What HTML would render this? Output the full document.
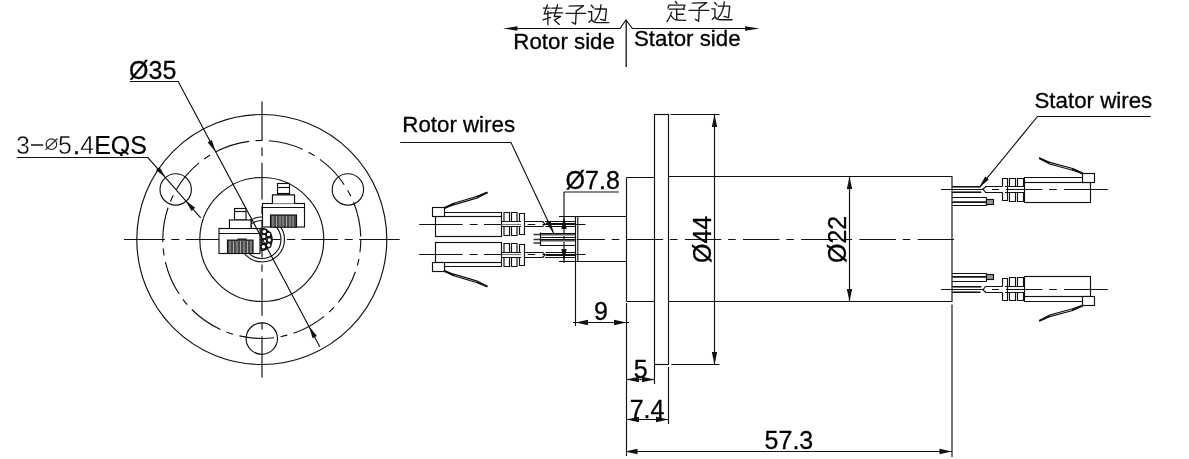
<!DOCTYPE html>
<html><head><meta charset="utf-8">
<style>
html,body{margin:0;padding:0;background:#fff;}
svg{display:block;will-change:transform;}
text{font-family:"Liberation Sans",sans-serif;fill:#000;stroke:#000;stroke-width:0.3px;}
text.thin{stroke:#fff;stroke-width:0.4px;}
</style></head>
<body>
<svg width="1189" height="459" viewBox="0 0 1189 459">
<defs>
  <g id="zi" fill="none" stroke="#1a1a1a" stroke-width="1.35" stroke-linecap="round" stroke-linejoin="round">
    <path d="M3.1 3.1 L17.6 2.7 L10.3 7.9"/>
    <path d="M10.3 7.9 L9.5 21.2 L6.2 19.4"/>
    <path d="M0 10.3 L19.7 10.3"/>
  </g>
  <g id="bian" fill="none" stroke="#1a1a1a" stroke-width="1.35" stroke-linecap="round" stroke-linejoin="round">
    <path d="M6.4 6.1 L17.9 6.1 L16.7 17.6 L12.2 16.4"/>
    <path d="M12.5 1.8 Q11.8 12 6.4 17.6"/>
    <path d="M2.8 2.4 L4.9 4.8"/>
    <path d="M0 8.8 L3.1 8.8 L3.1 17 L0.4 19.4"/>
    <path d="M3.1 17 Q5 19.7 8.5 19.7 L20.3 19.7"/>
  </g>
</defs>

<!-- ============ TOP: rotor/stator side ============ -->
<g stroke="#111" stroke-width="1.15" fill="none">
  <path d="M517 28.5 L620 28.5 L626 20 L632.4 28.5 L746 28.5"/>
  <line x1="626.2" y1="20" x2="626.2" y2="67" stroke-width="1.3"/>
</g>
<path d="M503 28.5 L517.5 26.3 L517.5 30.7 Z" fill="#111"/>
<path d="M759.5 28.5 L745 26.3 L745 30.7 Z" fill="#111"/>
<text x="513.3" y="49.2" font-size="22.3">Rotor side</text>
<text x="634" y="45.7" font-size="22.3">Stator side</text>

<!-- 转 -->
<g fill="none" stroke="#1a1a1a" stroke-width="1.35" stroke-linecap="round" stroke-linejoin="round">
  <path d="M543.3 8.1 L550 8.1"/>
  <path d="M547.3 5 L544.2 14.1 L550.9 12.9"/>
  <path d="M547.9 11.1 L547.9 24.7"/>
  <path d="M543 19.9 L550.6 17.4"/>
  <path d="M551.8 8.1 L561.8 8.1"/>
  <path d="M550.9 12.9 L562.7 12.9"/>
  <path d="M557.6 4.7 L554.2 16.5 L560.6 16.5 L554.5 20.2 L559.4 24.4"/>
</g>
<use href="#zi" x="566" y="3"/>
<use href="#bian" x="588.5" y="2.9"/>
<!-- 定 -->
<g fill="none" stroke="#1a1a1a" stroke-width="1.35" stroke-linecap="round" stroke-linejoin="round">
  <path d="M675.5 1.5 L677 3.6"/>
  <path d="M667.9 7.9 L669.1 5.1 L684.9 5.1 L683.4 9.1"/>
  <path d="M668.8 9.1 L684.6 9.1"/>
  <path d="M676.7 9.1 L676.7 19.7"/>
  <path d="M676.7 14.2 L683.4 14.2"/>
  <path d="M671.6 12.1 Q670 17.5 667 21.5"/>
  <path d="M671.3 15.7 Q673.5 20 678 20.1 L685.8 20.3"/>
</g>
<use href="#zi" x="689.1" y="0"/>
<use href="#bian" x="711.8" y="0"/>

<!-- ============ LEFT VIEW ============ -->
<g stroke="#111" stroke-width="1.15" fill="none">
  <circle cx="261.8" cy="239.5" r="125"/>
  <circle cx="261.8" cy="239.5" r="62"/>
  <circle cx="175.7" cy="189.4" r="15.7"/>
  <circle cx="347.9" cy="189.4" r="15.7"/>
  <circle cx="261.8" cy="338.6" r="15.7"/>
  <circle cx="261.8" cy="239.5" r="99" stroke-dasharray="35 6.5 7 6.5" stroke-dashoffset="22.1"/>
  <!-- center lines -->
  <path d="M124 239.5 H165 M171.3 239.5 H179.3 M185.8 239.5 H222.3 M229 239.5 H237 M243.5 239.5 H280.6 M286.9 239.5 H295.2 M301.4 239.5 H338 M344.7 239.5 H352.7 M359.2 239.5 H399.7"/>
  <path d="M262 101.4 V140.8 M262 147.6 V156 M262 162.8 V199.6 M262 206.4 V214 M262 220.8 V257.6 M262 264.4 V271.7 M262 278.5 V315.8 M262 322.6 V329.6 M262 336.2 V377.5"/>
  <!-- 3-Ø5.4 leader -->
  <path d="M16.8 157.5 L147.9 157.5 L200.7 217.9"/>
</g>
<path d="M215.6 152.1 L211.9 139.9 L207.6 142.2 Z" fill="#111"/>
<path d="M308.9 326.1 L316.9 336 L312.6 338.3 Z" fill="#111"/>
<path d="M165.6 177.5 L159.5 166.9 L155.9 170.1 Z" fill="#111"/>
<path d="M185.4 200.3 L195.1 207.7 L191.5 210.9 Z" fill="#111"/>
<text x="129.1" y="78.6" font-size="25">Ø35</text>
<g font-size="25">
<text x="15.9" y="153.8" class="thin">3</text>
<text x="58.1" y="153.8" class="thin">5</text>
<text x="73" y="153.8">.</text>
<text x="80.2" y="153.8" class="thin">4</text>
<clipPath id="cq"><rect x="90" y="120" width="70" height="36"/></clipPath><text x="94.2" y="153.8" clip-path="url(#cq)" style="stroke-width:0.15px">EQS</text>
<path d="M121.3 149.3 L128.3 154.3" stroke="#000" stroke-width="1.9" fill="none"/>
</g>
<g stroke="#222" stroke-width="1.15" fill="none">
<line x1="31" y1="145" x2="43.2" y2="145" stroke-width="1.6"/>
<ellipse cx="51.4" cy="144.2" rx="5.3" ry="5.3"/>
<line x1="45.5" y1="149.8" x2="57.5" y2="138.5"/>
</g>

<!-- rotor inner -->
<g stroke="#111" stroke-width="1.15" fill="none">
  <circle cx="262" cy="239.5" r="22.5"/>
  <circle cx="262" cy="239.5" r="19"/>
</g>
<g stroke="#111" stroke-width="1.2" fill="#fff">
  <path d="M261 228.3 A11.2 11.2 0 0 1 261 250.7 Z" fill="#666"/>
  <circle cx="264.3" cy="231.5" r="2.4"/>
  <circle cx="268.6" cy="234.5" r="2.4"/>
  <circle cx="263.8" cy="236.5" r="2.4"/>
  <circle cx="269.3" cy="240" r="2.4"/>
  <circle cx="264.3" cy="241.5" r="2.4"/>
  <circle cx="268.6" cy="245.2" r="2.4"/>
  <circle cx="263.5" cy="246.8" r="2.4"/>
</g>
<!-- upper-right connector -->
<g stroke="#111" stroke-width="1.15" fill="#fff">
  <rect x="277.5" y="183.5" width="12" height="11.5"/>
  <line x1="277.5" y1="187.5" x2="289.5" y2="187.5"/>
  <line x1="277.5" y1="193.5" x2="289.5" y2="193.5"/>
  <rect x="272.5" y="195" width="22" height="12.5"/>
  <line x1="272.5" y1="199" x2="294.5" y2="199" stroke="#666"/>
  <rect x="262.5" y="203.5" width="42" height="23.5"/>
  <rect x="272.5" y="195" width="22" height="8.5" stroke="none"/>
  <path d="M272.5 195 V203.5 M294.5 195 V203.5 M272.5 195 H294.5" fill="none"/>
  <line x1="262.5" y1="207.5" x2="304.5" y2="207.5"/>
  <rect x="270.5" y="215" width="26" height="12" fill="#4a4a4a"/>
</g>
<g stroke="#fff" stroke-width="0.55">
  <path d="M273 216v11M276.5 216v11M280 216v11M283 216v11M286.5 216v11M290 216v11M293 216v11"/>
</g>
<!-- lower-left connector -->
<g stroke="#111" stroke-width="1.15" fill="#fff">
  <rect x="234.5" y="208.5" width="11.5" height="12.5"/>
  <line x1="234.5" y1="211.5" x2="246" y2="211.5"/>
  <line x1="234.5" y1="220" x2="246" y2="220"/>
  <rect x="229.5" y="220" width="21.5" height="13.5"/>
  <line x1="229.5" y1="224.5" x2="251" y2="224.5"/>
  <rect x="219" y="228.5" width="41" height="25"/>
  <rect x="229.5" y="221" width="21.5" height="7" stroke="none"/>
  <path d="M229.5 220 V228.5 M251 220 V228.5" fill="none"/>
  <line x1="219" y1="233.5" x2="260" y2="233.5"/>
  <path d="M227.5 253.5 V240 H238 V239 H246 V240 H253 V253.5 Z" fill="#4a4a4a"/>
</g>
<g stroke="#fff" stroke-width="0.55">
  <path d="M230 241v12M233.5 241v12M237 241v12M240.5 241v12M244 241v12M247.5 241v12M251 241v12"/>
</g>
<path d="M129.8 81.5 L178.2 81.5 L319.8 346.8" stroke="#111" stroke-width="1.15" fill="none"/>
<!-- ============ SIDE VIEW ============ -->
<g stroke="#111" stroke-width="1.15" fill="none">
  <!-- shaft -->
  <path d="M559 216.5 L626.5 216.5 M559 261.5 L626.5 261.5"/>
  <line x1="577.8" y1="216.5" x2="577.8" y2="261.5"/>
  <line x1="575.5" y1="216.5" x2="575.5" y2="326"/>
  <!-- housing -->
  <path d="M626.5 177.5 L654.5 177.5 M626.5 301.5 L654.5 301.5"/>
  <line x1="626.5" y1="177.5" x2="626.5" y2="301.5"/>
  <line x1="626.5" y1="303" x2="626.5" y2="456"/>
  <!-- flange -->
  <rect x="654.5" y="114.5" width="14" height="250"/>
  <line x1="654.5" y1="364.5" x2="654.5" y2="384"/>
  <line x1="668.5" y1="367" x2="668.5" y2="424"/>
  <!-- body -->
  <path d="M668.5 176.5 L952 176.5 L952 301.5 L668.5 301.5"/>
  <line x1="952" y1="304.5" x2="952" y2="457"/>
  <!-- Ø44 dim -->
  <path d="M670.5 114.5 L719.5 114.5 M671.3 364.5 L719.5 364.5"/>
  <line x1="714.5" y1="114.5" x2="714.5" y2="364.5"/>
  <!-- Ø22 dim -->
  <line x1="849.5" y1="176.5" x2="849.5" y2="301.5"/>
  <!-- Ø7.8 dim -->
  <path d="M563.9 192 L618.8 192"/>
  <line x1="564" y1="192" x2="564" y2="263"/>
  <!-- 9 dim -->
  <line x1="573" y1="322.5" x2="629" y2="322.5"/>
  <!-- 5 dim -->
  <line x1="626.5" y1="379.5" x2="655" y2="379.5"/>
  <!-- 7.4 dim -->
  <line x1="626.5" y1="419.5" x2="668.5" y2="419.5"/>
  <!-- 57.3 dim -->
  <line x1="626.5" y1="451.5" x2="952" y2="451.5"/>
  <!-- main center line -->
  <line x1="576.7" y1="239.5" x2="958.4" y2="239.5" stroke-dasharray="36.5 6.8 7.6 7.3" stroke-dashoffset="8.3"/>
</g>
<g fill="#111">
<path d="M714.50 114.50 L717.20 127.00 L711.80 127.00 Z"/>
<path d="M714.50 364.50 L711.80 352.00 L717.20 352.00 Z"/>
<path d="M849.50 176.50 L852.20 189.00 L846.80 189.00 Z"/>
<path d="M849.50 301.50 L846.80 289.00 L852.20 289.00 Z"/>
<path d="M564.00 216.50 L566.70 229.00 L561.30 229.00 Z"/>
<path d="M564.00 261.50 L561.30 249.00 L566.70 249.00 Z"/>
<path d="M575.50 322.50 L588.00 319.80 L588.00 325.20 Z"/>
<path d="M626.50 322.50 L614.00 325.20 L614.00 319.80 Z"/>
<path d="M626.50 379.50 L639.00 376.80 L639.00 382.20 Z"/>
<path d="M654.50 379.50 L642.00 382.20 L642.00 376.80 Z"/>
<path d="M626.50 419.50 L639.00 416.80 L639.00 422.20 Z"/>
<path d="M668.50 419.50 L656.00 422.20 L656.00 416.80 Z"/>
<path d="M625.00 451.50 L637.50 448.80 L637.50 454.20 Z"/>
<path d="M952.00 451.50 L939.50 454.20 L939.50 448.80 Z"/>
</g>
<text x="565.6" y="188.5" font-size="25">Ø7.8</text>
<text x="594" y="319.5" font-size="25">9</text>
<text x="633.7" y="377.5" font-size="25">5</text>
<text x="629.7" y="417.5" font-size="25">7.4</text>
<text x="764.6" y="449.2" font-size="25">57.3</text>
<text transform="translate(711.4 263) rotate(-90)" font-size="25">Ø44</text>
<text transform="translate(846 263) rotate(-90)" font-size="25">Ø22</text>

<!-- labels -->
<text x="402.3" y="132.4" font-size="22.3">Rotor wires</text>
<g stroke="#111" stroke-width="1.15" fill="none">
  <path d="M400.2 142.5 L511 142.5 L553.8 233.6"/>
  <path d="M1150.8 116.5 L1037.5 116.5 L978.8 188.1"/>
</g>
<path d="M553.8 233.6 L550.4 220.8 L546.2 222.8 Z" fill="#111"/>
<path d="M978.8 188.1 L988.8 179.5 L985.2 176.5 Z" fill="#111"/>
<text x="1034.5" y="107.5" font-size="22.3">Stator wires</text>

<!-- ============ ROTOR CONNECTORS ============ -->
<g id="rcon">
<g stroke="#111" stroke-width="1.15" fill="#fff">
  <path d="M441 216.5 V212.5 H501.5 V216.5" />
  <rect x="435.5" y="216.5" width="66" height="20"/>
  <path d="M419.2 224.5 H462.6 M469.7 224.5 H477.6 M484 224.5 H501.5" fill="none"/>
  <rect x="432.5" y="207.5" width="12" height="9"/>
  <path d="M504 221.5 V212.5 H509.5 V221.5 M511.5 221.5 V212.5 H517 V221.5 M519.5 221.5 V213.5 H524.5 V234.5 H519.5 V226.5 M504 226.5 V235.5 H509.5 V226.5 M511.5 226.5 V235.5 H517 V226.5" fill="none"/>
  <path d="M501.5 221.5 H521 M501.5 226.5 H521" fill="none"/>
  <path d="M501.5 224.5 H521" fill="none" stroke="#777"/>
  <path d="M444.5 208 L454.6 203 L477.3 196.3 L487.4 192.4 L477.3 197.9 L454.6 204.6 Z" fill="#fff" stroke-width="1.1"/>
  <path d="M444.5 208 L454.6 203.3 M477.3 196.8 L487.4 192.4" fill="none" stroke-width="2"/>
  <path d="M524.5 221.5 H543.5 M524.5 226.5 H543 M527.6 224.5 H535.2" fill="none"/>
  <path d="M542.5 221.5 L545 224 L543 226.5" fill="none"/>
  <path d="M545 221.5 H575 M546 223.5 H575 M545.5 226.5 H575" fill="none"/>
  <path d="M542.5 224.5 H585.5" fill="none"/>
</g>
</g>
<use href="#rcon" transform="translate(0 479) scale(1 -1)"/>
<g stroke="#111" stroke-width="1.15" fill="none">
  <path d="M533.5 234.5 H540.5 M533.5 239.5 H540.5 M533.5 243 H540.5" stroke="#333" stroke-width="1.6"/>
  <path d="M540.5 232.5 V246"/>
  <path d="M540.5 233.5 H575 M540.5 237.5 H575 M540.5 239.5 H575 M540.5 245.5 H575"/>
  <path d="M541 234.5 H575 M541 240.5 H575" stroke="#555"/>
  <path d="M541 235.5 H575 M541 241.5 H575" stroke="#aaa"/>
</g>

<!-- ============ STATOR CONNECTORS ============ -->
<g id="scon">
<g stroke="#111" stroke-width="1.15" fill="#fff">
  <path d="M1024.5 182.5 V177.5 H1085.5 V182.5" fill="none"/>
  <rect x="1024.5" y="182.5" width="66" height="20" fill="none"/>
  <path d="M941 189.5 H984 M992 189.5 H999 M1006 189.5 H1042.4 M1049 189.5 H1056.8 M1064 189.5 H1107.8" fill="none"/>
  <rect x="1082.5" y="173.5" width="12" height="9"/>
  <path d="M1002.5 186.5 V178.5 H1007.5 V200.5 H1002.5 V192.5 M1009.5 186.5 V178.5 H1015.5 V186.5 M1017.5 186.5 V178.5 H1023.5 V186.5 M1009.5 192.5 V201.5 H1015.5 V192.5 M1017.5 192.5 V201.5 H1023.5 V192.5" fill="none"/>
  <path d="M1005 186.5 H1024.5 M1005 192.5 H1024.5" fill="none"/>
  <path d="M1082.7 173.5 L1071.8 168.3 L1049.6 162.4 L1039.2 158.1 L1049.6 164 L1071.8 170 Z" fill="#fff" stroke-width="1.1"/>
  <path d="M1082.7 173.5 L1071.8 168.6 M1049.6 163 L1039.2 158.1" fill="none" stroke-width="2"/>
  <path d="M985.2 186.5 H1002.5 M985.2 192.5 H1002.5" fill="none"/>
  <path d="M986 186.5 L983 189 L985.5 192.5" fill="none"/>
  <path d="M952 186.5 H980.5 M952 192.5 H981.3" fill="none"/><path d="M952 187.5 H980.5 M952 191.5 H981.3" fill="none" stroke="#777"/>
  <path d="M952 197.5 H986.7 M952 202.5 H986.7 M952 205.5 H986.7 M986.5 197.5 V205.5" fill="none"/><path d="M952 201.5 H986.7" fill="none" stroke="#555"/>
  <rect x="986.5" y="199.5" width="7" height="5" fill="#999"/>
</g>
</g>
<use href="#scon" transform="translate(0 479) scale(1 -1)"/>
</svg>
</body></html>
